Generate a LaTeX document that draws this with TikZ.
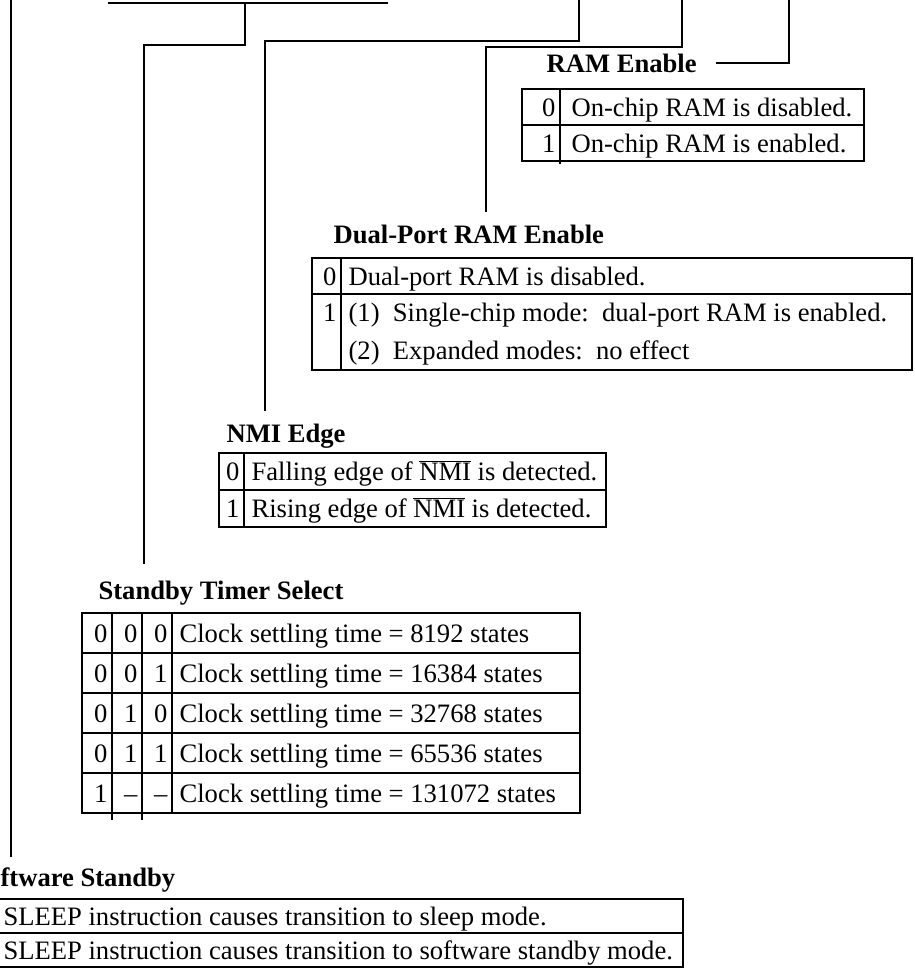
\documentclass[tikz,border=0pt]{standalone}
\usepackage{fontspec}
\setmainfont{Liberation Serif}
\usepackage{tikz}

\newcommand{\regfont}{\fontsize{26.6}{32}\selectfont}
\tikzset{
  ttl/.style={font=\regfont\bfseries, anchor=base west, inner sep=0pt},
  txt/.style={anchor=base west, inner sep=0pt},
  bitv/.style={anchor=base east, inner sep=0pt},
}

\begin{document}
\begin{tikzpicture}[x=1pt,y=-1pt,line width=1.2pt,font=\regfont]
\useasboundingbox (0,0) rectangle (914,974);
\clip (0,0) rectangle (914,974);

% bit lines coming down from the register
\coordinate (ssby) at (11,0);
\coordinate (stsL) at (108,3);
\coordinate (stsR) at (388,3);
\coordinate (stsM) at (245,3);
\coordinate (stsK) at (144,45);
\coordinate (nmieg) at (579,0);
\coordinate (nmiK) at (265,41);
\coordinate (dpme) at (682,0);
\coordinate (dpK) at (486,47);
\coordinate (rame) at (789,0);

% RAM Enable
\node[ttl] (ramTitle) at (546,72) {RAM Enable};
\draw (522,89) rectangle (864,161);
\draw (522,125) -- (864,125);
\draw (560,89) -- (560,164);
\node[bitv] (ram0) at (556,116) {0};
\node[bitv] (ram1) at (556,152) {1};
\node[txt] (ramD0) at (571,116) {On-chip RAM is disabled.};
\node[txt] (ramD1) at (571,152) {On-chip RAM is enabled.};

% Dual-Port RAM Enable
\node[ttl] (dpTitle) at (333,243) {Dual-Port RAM Enable};
\draw (312,258) rectangle (912,370);
\draw (312,294) -- (912,294);
\draw (341,258) -- (341,370);
\node[bitv] (dp0) at (337,285) {0};
\node[bitv] (dp1) at (337,321) {1};
\node[txt] (dpD0) at (348,285) {Dual-port RAM is disabled.};
\node[txt] (dpD1) at (348,321) {(1)~~Single-chip mode:~~dual-port RAM is enabled.};
\node[txt] (dpD2) at (348,359) {(2)~~Expanded modes:~~no effect};

% NMI Edge
\node[ttl] (nmiTitle) at (226,442) {NMI Edge};
\draw (219,453) rectangle (606,527);
\draw (219,490) -- (606,490);
\draw (244,453) -- (244,527);
\node[bitv] (nmi0) at (240,480) {0};
\node[bitv] (nmi1) at (240,517) {1};
\node[txt] (nmiD0) at (251,480) {Falling edge of $\overline{\mbox{NMI}}$ is detected.};
\node[txt] (nmiD1) at (251,517) {Rising edge of $\overline{\mbox{NMI}}$ is detected.};

% Standby Timer Select
\node[ttl] (stsTitle) at (98,599) {Standby Timer Select};
\draw (82,613) rectangle (580,813);
\foreach \x/\e in {112/820,142/820,172/813}
{\draw (\x,613) -- (\x,\e);}
\foreach \y in {653,693,733,773}
{\draw (82,\y) -- (580,\y);}
\foreach \i/\a/\b/\c/\n in {0/0/0/0/8192,1/0/0/1/16384,2/0/1/0/32768,3/0/1/1/65536,4/1/--/--/131072}
{\node[bitv] (stsA\i) at (108,{642+40*\i}) {\a};
 \node[bitv] (stsB\i) at (138,{642+40*\i}) {\b};
 \node[bitv] (stsC\i) at (168,{642+40*\i}) {\c};
 \node[txt] (stsD\i) at (179,{642+40*\i}) {Clock settling time = \n\ states};}

% Software Standby
\node[ttl] (sswTitle) at (0,886) {ftware Standby};
\draw (-40,899) rectangle (683,967);
\draw (-40,933) -- (683,933);
\node[txt] (sswD0) at (3,925) {SLEEP instruction causes transition to sleep mode.};
\node[txt] (sswD1) at (3,959) {SLEEP instruction causes transition to software standby mode.};

% connectors
\draw[shorten >=10pt] (ssby) -- (ssby |- sswTitle.north);
\draw (stsL) -- (stsR);
\draw[shorten >=16pt] (stsM) |- (stsK) -- (stsK |- stsTitle.north);
\draw[shorten >=12pt] (nmieg) |- (nmiK) -- (nmiK |- nmiTitle.north);
\draw[shorten >=12pt] (dpme) |- (dpK) -- (dpK |- dpTitle.north);
\draw (rame) |- ([xshift=19pt]ramTitle.east);
\end{tikzpicture}
\end{document}
